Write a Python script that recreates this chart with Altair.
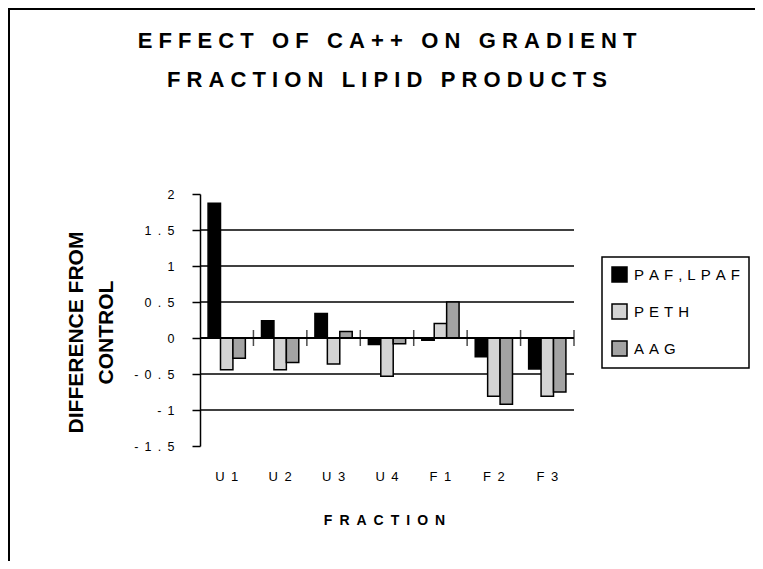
import altair as alt
import pandas as pd

# ---- data ----
FRACTIONS = ["U1", "U2", "U3", "U4", "F1", "F2", "F3"]
SERIES = ["PAF,LPAF", "PETH", "AAG"]
PAF_LPAF = [1.87, 0.24, 0.34, -0.09, -0.03, -0.26, -0.43]
PETH = [-0.44, -0.44, -0.36, -0.53, 0.20, -0.81, -0.81]
AAG = [-0.28, -0.34, 0.09, -0.08, 0.50, -0.92, -0.75]
Y_TICKS = [2.0, 1.5, 1.0, 0.5, 0.0, -0.5, -1.0, -1.5]
GRID_VALUES = [1.5, 1, 0.5, -0.5, -1]
COLORS = ["#000000", "#d4d4d4", "#a3a3a3"]
TITLE_LINES = ["EFFECT OF CA++ ON GRADIENT", "FRACTION LIPID PRODUCTS"]
Y_TITLE_LINES = ["DIFFERENCE FROM", "CONTROL"]
X_TITLE = "FRACTION"

FONT = "Liberation Sans"
NB = "\u00a0"      # no-break space (not collapsed by SVG)
EN = "\u2002"      # en space used as letter spacing
THREE = "\u2004"   # three-per-em space
MINUS = "\u2212"


def spaced(text, gap=NB, word_gap=NB * 3):
    return word_gap.join(gap.join(word) for word in text.split(" "))


rows = []
for series, vals in zip(SERIES, [PAF_LPAF, PETH, AAG]):
    for frac, v in zip(FRACTIONS, vals):
        rows.append({"fraction": frac, "series": series, "value": v})
bars_df = pd.DataFrame(rows)
grid_df = pd.DataFrame({"value": GRID_VALUES})
frac_df = pd.DataFrame({"fraction": FRACTIONS})
border_df = pd.DataFrame({"k": [0]})

y_scale = alt.Scale(domain=[-1.5, 2], nice=False, zero=False)
x_scale = alt.Scale(domain=FRACTIONS, paddingInner=0, paddingOuter=0)

y_axis = alt.Axis(
    values=Y_TICKS, tickCount=len(Y_TICKS) + 2, format="~g",
    labelExpr=f"join(split(replace(datum.label, '{MINUS}', '-'), ''), '{EN}')",
    labelFont=FONT, labelFontSize=12.5, labelColor="black", labelPadding=18,
    labelOverlap=False,
    tickSize=8, tickColor="black", tickWidth=1.5,
    domainColor="black", domainWidth=1.5, grid=False,
    title=Y_TITLE_LINES, titleFont=FONT, titleFontSize=21, titleFontWeight="bold",
    titleColor="black", titleLineHeight=30, titleAngle=270,
    titleX=-118, titleY=138, titleBaseline="alphabetic", titleAlign="center",
)

x_axis = alt.Axis(
    orient="bottom",
    labelExpr=f"join(split(datum.label, ''), '{EN}')",
    labelFont=FONT, labelFontSize=13, labelColor="black", labelPadding=24, labelAngle=0,
    domain=False, ticks=False, tickSize=0, grid=False,
    title=spaced(X_TITLE, EN, EN), titleFont=FONT, titleFontSize=14, titleFontWeight="bold",
    titleColor="black", titleX=184, titleY=78, titleBaseline="alphabetic", titleAlign="center",
)

legend = alt.Legend(
    title=None, orient="none", legendX=402, legendY=63, direction="vertical",
    symbolType="square", symbolSize=225, symbolStrokeColor="black", symbolStrokeWidth=1.5,
    labelFont=FONT, labelFontSize=15, labelColor="black", labelOffset=6, labelLimit=300,
    labelExpr=f"join(split(datum.label, ''), '{THREE}')",
    rowPadding=16, padding=9, strokeColor="black", fillColor="white",
)

grid = alt.Chart(grid_df).mark_rule(color="black", strokeWidth=1.5).encode(
    y=alt.Y("value:Q", scale=y_scale, axis=y_axis)
)

bars = alt.Chart(bars_df).mark_bar(stroke="black", strokeWidth=1.5).encode(
    x=alt.X("fraction:N", sort=FRACTIONS, scale=x_scale, axis=x_axis),
    xOffset=alt.XOffset("series:N", sort=SERIES,
                        scale=alt.Scale(domain=SERIES, paddingInner=0, paddingOuter=0.65)),
    y=alt.Y("value:Q", scale=y_scale, axis=y_axis),
    color=alt.Color("series:N", sort=SERIES,
                    scale=alt.Scale(domain=SERIES, range=COLORS), legend=legend),
)

zero = alt.Chart(frac_df).mark_rule(color="black", strokeWidth=2).encode(
    y=alt.datum(0)
)

ticks = alt.Chart(frac_df).mark_tick(orient="vertical", size=16, thickness=1.5, color="black").encode(
    x=alt.X("fraction:N", sort=FRACTIONS, scale=x_scale, axis=x_axis, bandPosition=1),
    y=alt.datum(0),
)

# outer frame of the original figure (only its left and top edges are visible)
frame_left = alt.Chart(border_df).mark_rule(color="black", strokeWidth=2).encode(
    x=alt.value(-191), y=alt.value(-186), y2=alt.value(2000)
)
frame_top = alt.Chart(border_df).mark_rule(color="black", strokeWidth=2).encode(
    x=alt.value(-192), x2=alt.value(2000), y=alt.value(-185)
)

chart = alt.layer(grid, bars, zero, ticks, frame_left, frame_top).properties(
    width=374, height=252,
    autosize=alt.AutoSizeParams(type="none"),
    padding={"left": 192, "top": 186, "right": 181, "bottom": 115},
    title=alt.TitleParams(
        text=[spaced(TITLE_LINES[0]), spaced(TITLE_LINES[1])],
        font=FONT, fontSize=22, fontWeight="bold", color="black",
        anchor="middle", frame="group", baseline="alphabetic",
        lineHeight=39, offset=0, dy=102,
    ),
).configure_view(stroke=None).configure_legend(strokeWidth=1.5)

chart.save("out.html", embed_options={"renderer": "svg", "actions": False})
